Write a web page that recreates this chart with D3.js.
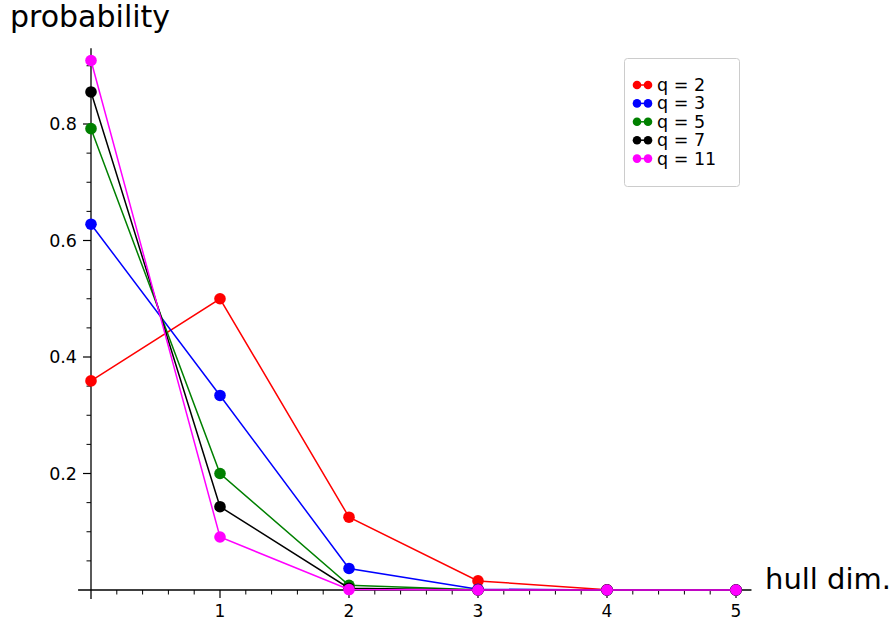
<!DOCTYPE html>
<html>
<head>
<meta charset="utf-8">
<script src="https://cdn.jsdelivr.net/npm/d3@7"></script>
<style>
  body { margin: 0; background: #fff; }
  text { font-family: "DejaVu Sans", sans-serif; }
</style>
</head>
<body>
<div id="chart-area"></div>
<script>
// hull dimension probabilities

const dims = [0, 1, 2, 3, 4, 5]
const seriesNames = ["q = 2", "q = 3", "q = 5", "q = 7", "q = 11"]
const q2 = [0.359, 0.5, 0.125, 0.0156, 0.0004, 0.0]
const q3 = [0.628, 0.334, 0.037, 0.0014, 0.0, 0.0]
const q5 = [0.792, 0.2, 0.008, 0.0003, 0.0, 0.0]
const q7 = [0.855, 0.143, 0.003, 0.0, 0.0, 0.0]
const q11 = [0.909, 0.091, 0.0008, 0.0, 0.0, 0.0]
const xTicks = [1, 2, 3, 4, 5]
const yTicks = [0.2, 0.4, 0.6, 0.8]
const colors = ["#ff0000", "#0000ff", "#008000", "#000000", "#ff00ff"]

const WIDTH = 896
const HEIGHT = 622

const svg = d3.select("#chart-area").append("svg")
    .attr("width", WIDTH)
    .attr("height", HEIGHT)

const x = d3.scaleLinear()
    .domain([0, 5])
    .range([91, 736])

const y = d3.scaleLinear()
    .domain([0, 0.8])
    .range([590, 124])

// axes lines
svg.append("line")
    .attr("x1", x(-0.1)).attr("x2", x(5.12))
    .attr("y1", y(0)).attr("y2", y(0))
    .attr("stroke", "black").attr("stroke-width", 1.3)
svg.append("line")
    .attr("x1", x(0)).attr("x2", x(0))
    .attr("y1", y(0.93)).attr("y2", y(0) + 9)
    .attr("stroke", "black").attr("stroke-width", 1.3)

// x ticks
const xMinor = d3.range(0, 5.01, 0.2).filter(v => Math.abs(v - Math.round(v)) > 0.01)
svg.append("g").selectAll("line")
    .data(xMinor)
    .enter().append("line")
    .attr("x1", d => x(d)).attr("x2", d => x(d))
    .attr("y1", y(0)).attr("y2", y(0) + 4.5)
    .attr("stroke", "black").attr("stroke-width", 1)
svg.append("g").selectAll("line")
    .data(xTicks)
    .enter().append("line")
    .attr("x1", d => x(d)).attr("x2", d => x(d))
    .attr("y1", y(0)).attr("y2", y(0) + 8)
    .attr("stroke", "black").attr("stroke-width", 1.2)
svg.append("g").selectAll("text")
    .data(xTicks)
    .enter().append("text")
    .attr("x", d => x(d))
    .attr("y", y(0) + 27)
    .attr("text-anchor", "middle")
    .attr("font-size", "17px")
    .text(d => d)

// y ticks
const yMinor = d3.range(0.05, 0.91, 0.05).filter(v => Math.abs(v * 5 - Math.round(v * 5)) > 0.01)
svg.append("g").selectAll("line")
    .data(yMinor)
    .enter().append("line")
    .attr("x1", x(0) - 4.5).attr("x2", x(0))
    .attr("y1", d => y(d)).attr("y2", d => y(d))
    .attr("stroke", "black").attr("stroke-width", 1)
svg.append("g").selectAll("line")
    .data(yTicks)
    .enter().append("line")
    .attr("x1", x(0) - 8).attr("x2", x(0))
    .attr("y1", d => y(d)).attr("y2", d => y(d))
    .attr("stroke", "black").attr("stroke-width", 1.2)
svg.append("g").selectAll("text")
    .data(yTicks)
    .enter().append("text")
    .attr("x", x(0) - 14)
    .attr("y", d => y(d) + 6)
    .attr("text-anchor", "end")
    .attr("font-size", "17.5px")
    .text(d => d.toFixed(1))

// axis labels
svg.append("text")
    .attr("x", 10).attr("y", 27)
    .attr("font-size", "30px")
    .text("probability")
svg.append("text")
    .attr("x", 765).attr("y", 589)
    .attr("font-size", "29px")
    .text("hull dim.")

// series
const series = [q2, q3, q5, q7, q11]
const line = d3.line()
    .x((d, i) => x(dims[i]))
    .y(d => y(d))

series.forEach((vals, k) => {
    const g = svg.append("g")
    g.append("path")
        .datum(vals)
        .attr("d", line)
        .attr("fill", "none")
        .attr("stroke", colors[k])
        .attr("stroke-width", 1.5)
    g.selectAll("circle")
        .data(vals)
        .enter().append("circle")
        .attr("cx", (d, i) => x(dims[i]))
        .attr("cy", d => y(d))
        .attr("r", 5.8)
        .attr("fill", colors[k])
})

// legend
const legend = svg.append("g")
legend.append("rect")
    .attr("x", 624.5).attr("y", 58.5)
    .attr("width", 115).attr("height", 128)
    .attr("rx", 3)
    .attr("fill", "white")
    .attr("stroke", "#cccccc")
    .attr("stroke-width", 1)

const rows = legend.selectAll("g.row")
    .data(seriesNames)
    .enter().append("g")
    .attr("class", "row")
    .attr("transform", (d, i) => `translate(0, ${85 + i * 18.4})`)
rows.append("line")
    .attr("x1", 637).attr("x2", 648)
    .attr("stroke", (d, i) => colors[i]).attr("stroke-width", 1.5)
rows.append("circle").attr("cx", 637).attr("r", 4.3)
    .attr("fill", (d, i) => colors[i])
rows.append("circle").attr("cx", 648).attr("r", 4.3)
    .attr("fill", (d, i) => colors[i])
rows.append("text")
    .attr("x", 657).attr("y", 6)
    .attr("font-size", "17.5px")
    .text(d => d)
</script>
</body>
</html>
